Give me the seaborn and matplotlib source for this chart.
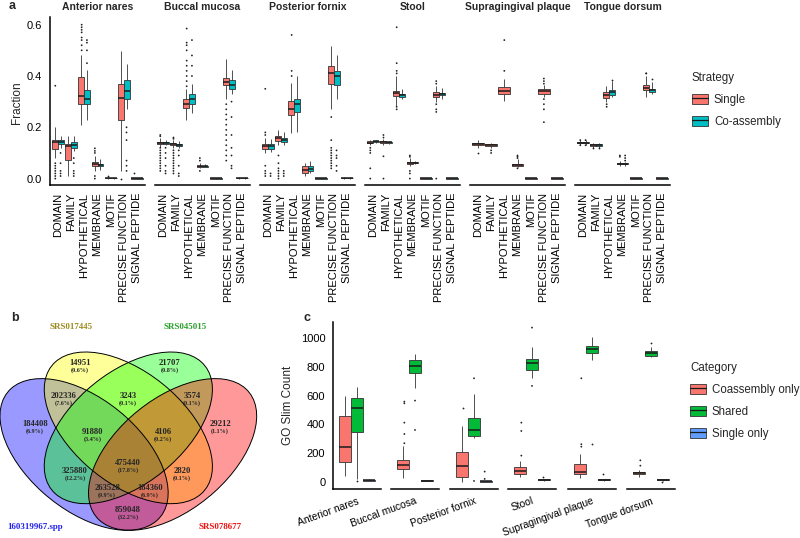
import pandas as pd
import matplotlib.pyplot as plt
import seaborn as sns
from matplotlib.lines import Line2D
from matplotlib.patches import Ellipse, Patch

# ---- panel a: protein annotation fractions -------------------------------
SITES = ["Anterior nares", "Buccal mucosa", "Posterior fornix", "Stool",
         "Supragingival plaque", "Tongue dorsum"]
CATEGORIES = ["DOMAIN", "FAMILY", "HYPOTHETICAL", "MEMBRANE", "MOTIF",
              "PRECISE FUNCTION", "SIGNAL PEPTIDE"]
STRATEGIES = ["Single", "Co-assembly"]

# (whisker low, q1, median, q3, whisker high) for every category
AN_SINGLE = [(0.08, 0.116, 0.142, 0.152, 0.20), (0.01, 0.074, 0.128, 0.135, 0.165),
             (0.21, 0.292, 0.322, 0.395, 0.48), (0.03, 0.048, 0.055, 0.064, 0.087),
             (0.0, 0.002, 0.003, 0.004, 0.006), (0.03, 0.23, 0.313, 0.367, 0.497),
             (0.0, 0.0, 0.001, 0.002, 0.004)]
AN_SINGLE_OUT = [[0.362, 0.06, 0.05, 0.04, 0.03, 0.02, 0.01, 0.0], [],
                 [0.50, 0.52, 0.54, 0.55, 0.57, 0.58, 0.59, 0.60],
                 [0.118, 0.108, 0.10, 0.01, 0.0], [0.012], [0.0], [0.02]]
AN_COASM = [(0.12, 0.133, 0.142, 0.152, 0.165), (0.107, 0.12, 0.13, 0.142, 0.165),
            (0.23, 0.289, 0.31, 0.345, 0.425), (0.035, 0.048, 0.052, 0.058, 0.075),
            (0.0, 0.001, 0.002, 0.002, 0.003), (0.27, 0.312, 0.343, 0.385, 0.445),
            (0.0, 0.0, 0.001, 0.001, 0.002)]
AN_COASM_OUT = [[0.10, 0.06, 0.03, 0.02, 0.01], [0.08, 0.06, 0.03, 0.02, 0.01],
                [0.45, 0.50, 0.53, 0.54], [], [],
                [0.20, 0.18, 0.15, 0.07, 0.05, 0.03], []]

BM_SINGLE = [(0.125, 0.136, 0.140, 0.142, 0.16), (0.12, 0.132, 0.135, 0.138, 0.15),
             (0.23, 0.276, 0.292, 0.309, 0.35), (0.04, 0.045, 0.048, 0.050, 0.06),
             (0.0, 0.0, 0.001, 0.001, 0.002), (0.31, 0.363, 0.378, 0.393, 0.465),
             (0.0, 0.002, 0.003, 0.004, 0.005)]
BM_SINGLE_OUT = [[0.17, 0.165, 0.12, 0.11, 0.10, 0.09, 0.08, 0.07, 0.06, 0.05, 0.04, 0.03],
                 [0.16, 0.155, 0.11, 0.10, 0.09, 0.08, 0.07, 0.06, 0.05, 0.04, 0.03, 0.02],
                 [0.36, 0.38, 0.40, 0.42, 0.44, 0.46, 0.50, 0.52, 0.53, 0.585],
                 [0.08, 0.07, 0.03], [],
                 [0.29, 0.27, 0.25, 0.23, 0.21, 0.19, 0.17, 0.15, 0.13, 0.11, 0.09, 0.07],
                 []]
BM_COASM = [(0.13, 0.136, 0.139, 0.141, 0.15), (0.12, 0.128, 0.132, 0.135, 0.145),
            (0.256, 0.289, 0.31, 0.328, 0.37), (0.044, 0.047, 0.049, 0.051, 0.055),
            (0.0, 0.0, 0.001, 0.001, 0.001), (0.328, 0.35, 0.365, 0.383, 0.425),
            (0.0, 0.002, 0.003, 0.004, 0.005)]
BM_COASM_OUT = [[0.12, 0.10, 0.08, 0.05, 0.03, 0.02], [0.11, 0.09, 0.05, 0.02, 0.01],
                [0.40, 0.44, 0.48, 0.54], [], [],
                [0.30, 0.24, 0.17, 0.12, 0.09, 0.05, 0.04], []]

PF_SINGLE = [(0.10, 0.117, 0.126, 0.135, 0.16), (0.13, 0.146, 0.157, 0.165, 0.19),
             (0.178, 0.246, 0.272, 0.302, 0.374), (0.01, 0.022, 0.035, 0.048, 0.06),
             (0.0, 0.0, 0.001, 0.001, 0.002), (0.27, 0.37, 0.41, 0.439, 0.517),
             (0.0, 0.002, 0.003, 0.004, 0.006)]
PF_SINGLE_OUT = [[0.35, 0.18, 0.17, 0.05, 0.03, 0.02, 0.01],
                 [0.09, 0.06, 0.04, 0.03, 0.02, 0.01, 0.0], [0.40, 0.42, 0.56], [], [],
                 [0.24, 0.15, 0.12, 0.11, 0.10, 0.09, 0.08, 0.07, 0.06, 0.05, 0.04], []]
PF_COASM = [(0.105, 0.117, 0.126, 0.135, 0.155), (0.13, 0.142, 0.152, 0.159, 0.18),
            (0.18, 0.259, 0.289, 0.309, 0.40), (0.02, 0.029, 0.039, 0.048, 0.07),
            (0.0, 0.0, 0.001, 0.001, 0.002), (0.311, 0.363, 0.40, 0.419, 0.48),
            (0.0, 0.002, 0.003, 0.004, 0.005)]
PF_COASM_OUT = [[0.02, 0.01], [0.03, 0.02, 0.01], [], [], [],
                [0.11, 0.09, 0.08, 0.05, 0.03], []]

ST_SINGLE = [(0.13, 0.137, 0.140, 0.146, 0.15), (0.13, 0.138, 0.142, 0.145, 0.155),
             (0.283, 0.322, 0.332, 0.341, 0.40), (0.05, 0.057, 0.062, 0.065, 0.08),
             (0.0, 0.0, 0.001, 0.001, 0.002), (0.30, 0.319, 0.327, 0.337, 0.36),
             (0.0, 0.0, 0.001, 0.001, 0.002)]
ST_SINGLE_OUT = [[0.12, 0.11, 0.10, 0.04, 0.0], [0.17, 0.16, 0.087, 0.0],
                 [0.41, 0.42, 0.45, 0.59, 0.28, 0.27], [0.09, 0.085, 0.03, 0.02, 0.0], [],
                 [0.38, 0.37, 0.29, 0.27, 0.26, 0.0], []]
ST_COASM = [(0.138, 0.142, 0.145, 0.147, 0.15), (0.135, 0.139, 0.141, 0.143, 0.147),
            (0.31, 0.318, 0.324, 0.331, 0.35), (0.055, 0.06, 0.062, 0.064, 0.068),
            (0.0, 0.0, 0.001, 0.001, 0.001), (0.31, 0.325, 0.330, 0.335, 0.355),
            (0.0, 0.0, 0.001, 0.001, 0.001)]
ST_COASM_OUT = [[], [], [], [], [], [], []]

SP_SINGLE = [(0.12, 0.132, 0.136, 0.139, 0.15), (0.12, 0.128, 0.131, 0.134, 0.14),
             (0.302, 0.331, 0.343, 0.357, 0.387), (0.045, 0.05, 0.054, 0.057, 0.075),
             (0.0, 0.0, 0.001, 0.001, 0.001), (0.32, 0.33, 0.342, 0.35, 0.365),
             (0.0, 0.0, 0.001, 0.001, 0.002)]
SP_SINGLE_OUT = [[0.10], [0.11, 0.10], [0.42, 0.54], [0.09, 0.085, 0.08, 0.04], [],
                 [0.39, 0.38, 0.37, 0.31, 0.29, 0.27, 0.22], []]

TD_SINGLE = [(0.13, 0.137, 0.140, 0.143, 0.15), (0.12, 0.128, 0.131, 0.133, 0.14),
             (0.30, 0.315, 0.325, 0.337, 0.36), (0.05, 0.055, 0.058, 0.061, 0.07),
             (0.0, 0.0, 0.001, 0.001, 0.001), (0.32, 0.344, 0.354, 0.363, 0.40),
             (0.0, 0.0, 0.001, 0.001, 0.001)]
TD_SINGLE_OUT = [[0.15, 0.13], [0.12], [0.29, 0.28], [0.085, 0.09], [], [0.41, 0.41], []]
TD_COASM = [(0.13, 0.137, 0.140, 0.143, 0.15), (0.12, 0.127, 0.13, 0.133, 0.14),
            (0.32, 0.326, 0.337, 0.345, 0.38), (0.05, 0.055, 0.058, 0.06, 0.065),
            (0.0, 0.0, 0.001, 0.001, 0.001), (0.33, 0.339, 0.345, 0.35, 0.375),
            (0.0, 0.0, 0.001, 0.001, 0.001)]
TD_COASM_OUT = [[0.15, 0.13], [0.12], [0.385], [0.09, 0.08, 0.07], [], [0.39], []]

# ---- panel b: Venn region counts -----------------------------------------
VENN_SETS = ["160319967.spp", "SRS017445", "SRS045015", "SRS078677"]
VENN_COUNTS = [14951, 21707, 202336, 3243, 3574, 184408, 91880, 4106, 29212,
               325880, 475440, 2820, 263528, 184360, 859048]

# ---- panel c: GO slim counts ---------------------------------------------
GO_GROUPS = ["Coassembly only", "Shared", "Single only"]
GO_COASM_ONLY = [(42, 141, 241, 460, 597), (28, 88, 118, 153, 250), (2, 33, 111, 206, 389),
                 (32, 56, 79, 102, 148), (25, 53, 72, 125, 192), (35, 56, 64, 72, 83)]
GO_COASM_ONLY_OUT = [[], [269, 333, 412, 546, 558], [512], [183, 354, 412],
                     [245, 262, 720], [113, 150]]
GO_SHARED = [(20, 350, 512, 581, 662), (650, 755, 808, 847, 889), (308, 322, 361, 442, 609),
             (720, 778, 829, 852, 935), (845, 898, 921, 947, 1007), (868, 877, 895, 910, 935)]
GO_SHARED_OUT = [[5], [565, 361], [720, 7], [1072, 667], [262], [968]]
GO_SINGLE_ONLY = [(8, 10, 12, 15, 18), (5, 8, 10, 12, 16), (2, 3, 5, 6, 8),
                  (10, 12, 15, 17, 20), (10, 12, 15, 18, 22), (8, 12, 15, 17, 20)]
GO_SINGLE_ONLY_OUT = [[], [], [72, 21], [32], [53], [0]]

PALETTE_A = {"Single": "#F8766D", "Co-assembly": "#00BFC4"}
PALETTE_C = {"Coassembly only": "#F8766D", "Shared": "#00BA38", "Single only": "#619CFF"}
EDGE = "#333333"
W, H = 800, 538


def px_axes(fig, left, top, width, height):
    """Add axes placed in pixel coordinates (origin top left)."""
    return fig.add_axes([left / W, 1 - (top + height) / H, width / W, height / H])


def to_frame(x_labels, series):
    rows = []
    for label, per_x in series.items():
        if per_x is None:
            continue
        for x, vals in zip(x_labels, per_x):
            for v in vals:
                rows.append((x, label, v))
    return pd.DataFrame(rows, columns=["x", "group", "value"])


def draw_boxes(ax, box_df, out_df, order, hue_order, palette):
    sns.boxplot(data=box_df, x="x", y="value", hue="group", order=order,
                hue_order=hue_order, palette=palette, saturation=1, whis=(0, 100),
                width=0.9, gap=0, linewidth=0.6, linecolor=EDGE, showfliers=False,
                medianprops={"linewidth": 1.1, "color": "#1a1a1a"},
                capprops={"linewidth": 0}, legend=False, ax=ax)
    if len(out_df):
        sns.stripplot(data=out_df, x="x", y="value", hue="group", order=order,
                      hue_order=hue_order, palette={h: "#222222" for h in hue_order},
                      dodge=len(hue_order) > 1, jitter=False, size=1.3, linewidth=0,
                      legend=False, ax=ax)


def style_axis(ax, first):
    sns.despine(ax=ax, top=True, right=True, left=not first)
    for side in ("left", "bottom"):
        ax.spines[side].set_linewidth(1.1)
        ax.spines[side].set_color("black")
    ax.tick_params(length=3.5, width=0.9, colors="black", labelsize=8, pad=2)
    ax.set_xlabel("")
    ax.set_ylabel("")
    ax.set_facecolor("none")
    if not first:
        ax.set_yticks([])


def legend_handles(palette):
    return [(Patch(facecolor=c, edgecolor=EDGE, linewidth=0.6),
             Line2D([], [], color="#1a1a1a", linewidth=0.9)) for c in palette.values()]


def add_legend(fig, palette, labels, title, x, y):
    fig.legend(handles=legend_handles(palette), labels=labels, title=title,
               loc="upper left", bbox_to_anchor=(x / W, 1 - y / H), frameon=False,
               fontsize=8.3, title_fontsize=8.3, handlelength=1.4, handleheight=1.0,
               handletextpad=0.5, labelspacing=0.85, borderpad=0, borderaxespad=0,
               alignment="left")


def panel_a(fig):
    singles = [AN_SINGLE, BM_SINGLE, PF_SINGLE, ST_SINGLE, SP_SINGLE, TD_SINGLE]
    single_out = [AN_SINGLE_OUT, BM_SINGLE_OUT, PF_SINGLE_OUT, ST_SINGLE_OUT,
                  SP_SINGLE_OUT, TD_SINGLE_OUT]
    coasm = [AN_COASM, BM_COASM, PF_COASM, ST_COASM, None, TD_COASM]
    coasm_out = [AN_COASM_OUT, BM_COASM_OUT, PF_COASM_OUT, ST_COASM_OUT, None, TD_COASM_OUT]
    for i, site in enumerate(SITES):
        ax = px_axes(fig, 50 + 105 * i, 17, 95, 168)
        levels = STRATEGIES if coasm[i] is not None else ["Single"]
        box_df = to_frame(CATEGORIES, {"Single": singles[i], "Co-assembly": coasm[i]})
        out_df = to_frame(CATEGORIES, {"Single": single_out[i], "Co-assembly": coasm_out[i]})
        draw_boxes(ax, box_df, out_df, CATEGORIES, levels, PALETTE_A)
        ax.set_ylim(-0.025, 0.63)
        ax.set_xlim(-0.6, len(CATEGORIES) - 0.4)
        style_axis(ax, i == 0)
        ax.set_xticks(range(len(CATEGORIES)))
        ax.set_xticklabels(CATEGORIES, rotation=90)
        if i == 0:
            ax.set_yticks([0, 0.2, 0.4, 0.6])
            ax.set_yticklabels(["0.0", "0.2", "0.4", "0.6"])
        ax.set_title(site, fontsize=7.5, fontweight="bold", pad=5)
    fig.text(17 / W, 1 - 103 / H, "Fraction", rotation=90, ha="center", va="center",
             fontsize=8.5)
    fig.text(12 / W, 1 - 6 / H, "a", fontsize=9, fontweight="bold", ha="center",
             va="center")
    add_legend(fig, PALETTE_A, STRATEGIES, "Strategy", 692, 72)


def panel_b(fig):
    ax = px_axes(fig, 0, 300, 290, 238)
    ax.set_xlim(0.065, 1.048)
    ax.set_ylim(0.156, 1.0505)
    ax.axis("off")
    # blue, yellow, green, red ellipses of the four-set diagram
    shapes = [((0.35, 0.47), -45, "blue"), ((0.5, 0.57), -45, "yellow"),
              ((0.5, 0.57), 45, "#00FF00"), ((0.65, 0.47), 45, "red")]
    for center, angle, color in shapes:
        ax.add_patch(Ellipse(center, 0.7, 0.4, angle=angle, facecolor=color,
                             alpha=0.4, edgecolor="none"))
    for center, angle, color in shapes:
        ax.add_patch(Ellipse(center, 0.7, 0.4, angle=angle, facecolor="none",
                             edgecolor="black", linewidth=0.7))
    spots = [(0.336, 0.814), (0.641, 0.814), (0.282, 0.690), (0.499, 0.690),
             (0.716, 0.690), (0.184, 0.584), (0.380, 0.554), (0.618, 0.554),
             (0.811, 0.584), (0.319, 0.408), (0.499, 0.438), (0.682, 0.408),
             (0.428, 0.344), (0.573, 0.344), (0.499, 0.261)]
    total = sum(VENN_COUNTS)
    serif = ["Liberation Serif", "DejaVu Serif"]
    for (x, y), n in zip(spots, VENN_COUNTS):
        ax.text(x, y, str(n), ha="center", va="center", fontsize=6.2,
                fontweight="bold", family=serif)
        ax.text(x, y - 0.027, "({:.1f}%)".format(100 * n / total), ha="center",
                va="center", fontsize=4.4, fontweight="bold", family=serif)
    set_spots = [(0.184, 0.197, "#2222EE"), (0.306, 0.949, "#9C8A1C"),
                 (0.692, 0.949, "#2AA02A"), (0.811, 0.197, "#EE1111")]
    for (x, y, c), name in zip(set_spots, VENN_SETS):
        ax.text(x, y, name, ha="center", va="center", fontsize=6.4,
                fontweight="bold", color=c, family=serif)
    fig.text(15 / W, 1 - 318 / H, "b", fontsize=9, fontweight="bold", ha="center",
             va="center")


def panel_c(fig):
    lefts = [333, 391, 450, 508, 568, 627]
    for i, site in enumerate(SITES):
        ax = px_axes(fig, lefts[i], 322, 48, 167)
        series = {"Coassembly only": [GO_COASM_ONLY[i]], "Shared": [GO_SHARED[i]],
                  "Single only": [GO_SINGLE_ONLY[i]]}
        outs = {"Coassembly only": [GO_COASM_ONLY_OUT[i]], "Shared": [GO_SHARED_OUT[i]],
                "Single only": [GO_SINGLE_ONLY_OUT[i]]}
        draw_boxes(ax, to_frame([site], series), to_frame([site], outs), [site],
                   GO_GROUPS, PALETTE_C)
        ax.set_ylim(-49, 1111)
        ax.set_xlim(-0.6, 0.6)
        style_axis(ax, i == 0)
        ax.tick_params(axis="x", pad=1.5)
        ax.set_xticks([0])
        ax.set_xticklabels([site], rotation=20, ha="right", va="top",
                           rotation_mode="anchor", fontsize=7.4)
        if i == 0:
            ax.set_yticks([0, 200, 400, 600, 800, 1000])
    fig.text(288 / W, 1 - 405 / H, "GO Slim Count", rotation=90, ha="center",
             va="center", fontsize=8.5)
    fig.text(307 / W, 1 - 318 / H, "c", fontsize=9, fontweight="bold", ha="center",
             va="center")
    add_legend(fig, PALETTE_C, GO_GROUPS, "Category", 690, 362)


def main():
    sns.set_style("white")
    plt.rcParams["font.family"] = ["Liberation Sans", "DejaVu Sans"]
    fig = plt.figure(figsize=(W / 100, H / 100), dpi=100)
    fig.set_facecolor("white")
    panel_a(fig)
    panel_b(fig)
    panel_c(fig)
    fig.savefig("out.png", dpi=100)


if __name__ == "__main__":
    main()
